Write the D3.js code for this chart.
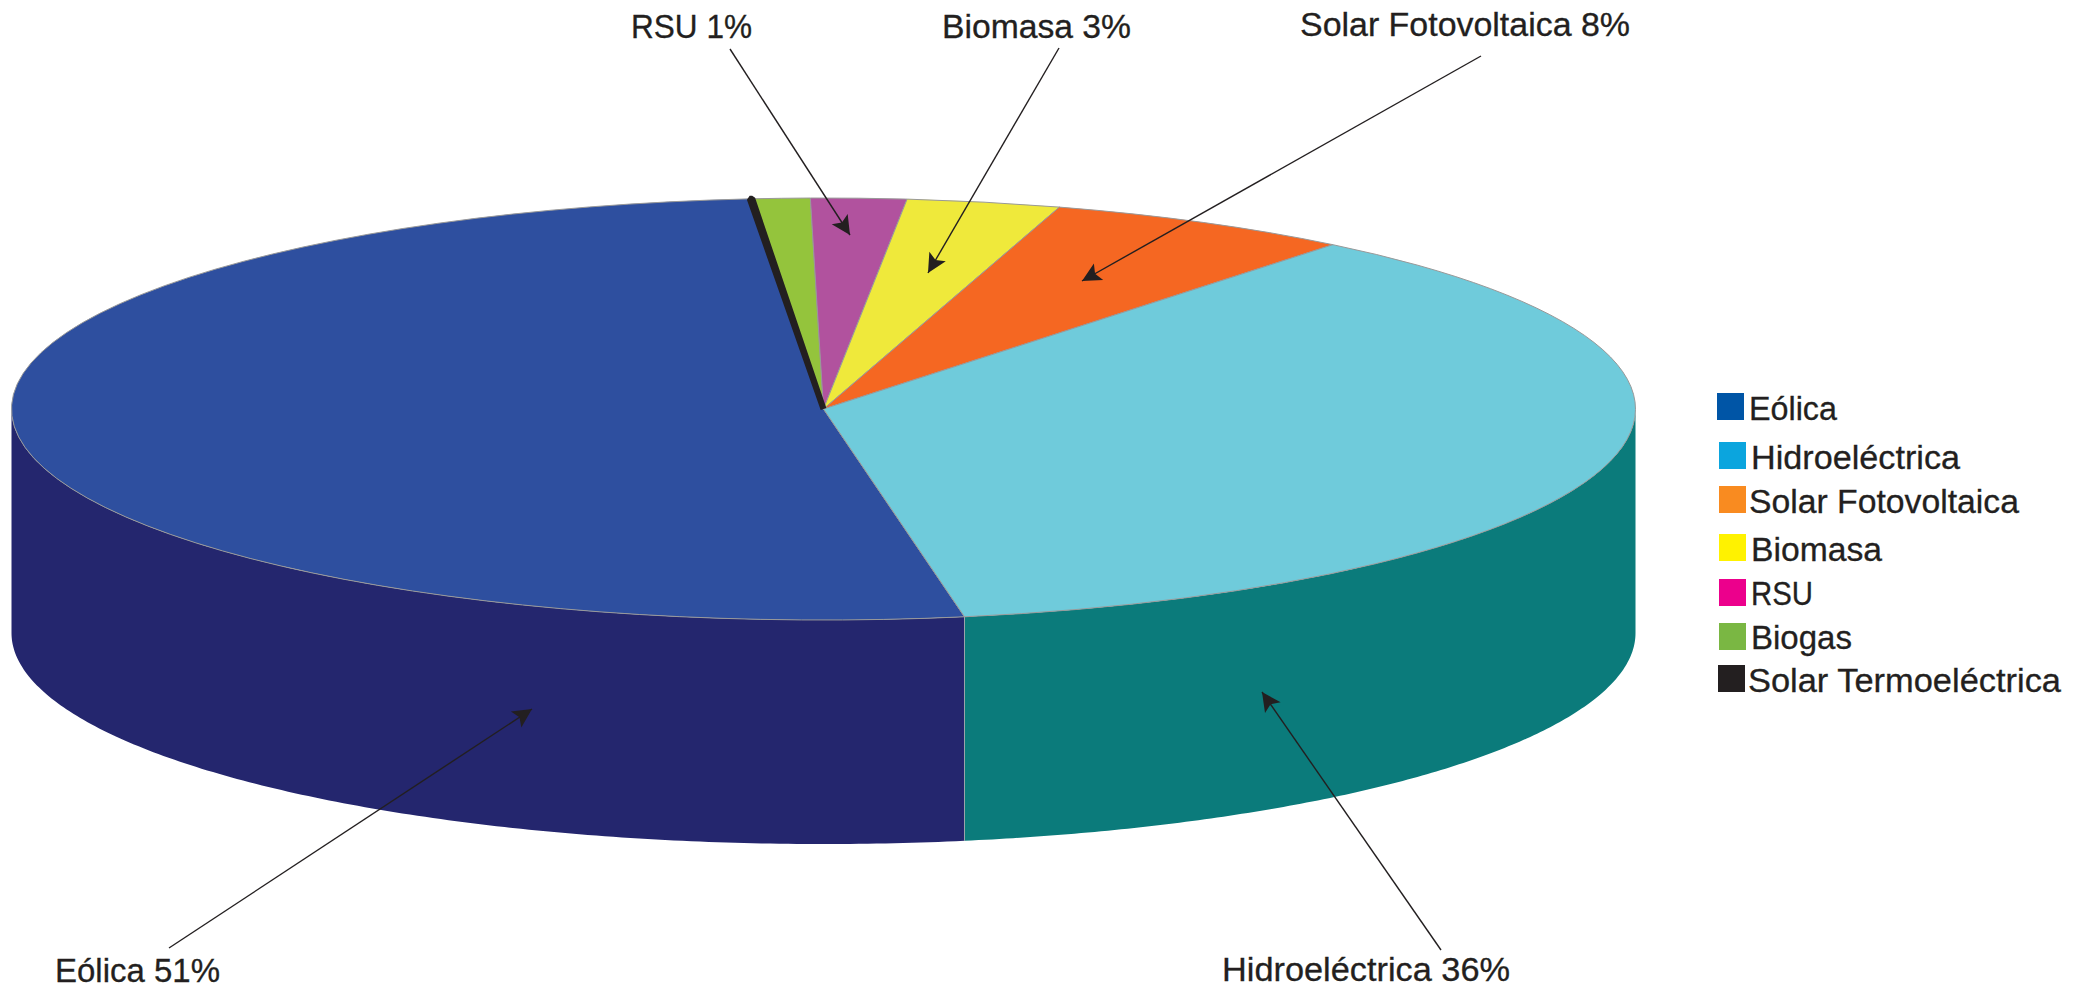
<!DOCTYPE html>
<html><head><meta charset="utf-8">
<script src="https://cdn.jsdelivr.net/npm/d3@7/dist/d3.min.js"></script>
<style>html,body{margin:0;padding:0;background:#fff}svg{display:block}text{font-family:"Liberation Sans",Arial,sans-serif;fill:#231F20;stroke:#231F20;stroke-width:.3px}</style>
</head><body><svg id="c" width="2087" height="990"></svg>
<script>
// Data: clockwise from the Eólica / Hidroeléctrica seam, shares as drawn on the pie
const categories = ["Eólica","Solar Termoeléctrica","Biogas","RSU","Biomasa","Solar Fotovoltaica","Hidroeléctrica"];
const values = [51.33,0.05,1.14,1.9,3.05,6.1,36.43];
const legendOrder = ["Eólica","Hidroeléctrica","Solar Fotovoltaica","Biomasa","RSU","Biogas","Solar Termoeléctrica"];
const calloutNames = ["RSU","Biomasa","Solar Fotovoltaica","Eólica","Hidroeléctrica"];
const calloutPercents = [1,3,8,51,36];

// Styles
const topColors = {"Eólica":"#2E4F9F","Hidroeléctrica":"#6FCBDB","Solar Fotovoltaica":"#F56722","Biomasa":"#EFE93B","RSU":"#B1529E","Biogas":"#94C43C","Solar Termoeléctrica":"#231F20"};
const sideColors = {"Eólica":"#24266E","Hidroeléctrica":"#0B7B7B"};
const legendColors = {"Eólica":"#0055A6","Hidroeléctrica":"#0BA5DE","Solar Fotovoltaica":"#F98B20","Biomasa":"#FFF200","RSU":"#EC008C","Biogas":"#7AB743","Solar Termoeléctrica":"#231F20"};

// Layout
const cx=823.5, cy=409, rx=812, ry=211, depth=224, FS=33, R=1000;
const legendLayout = [
 {sx:1717,sy:393,tx:1749,by:420,w:88},
 {sx:1719,sy:442,tx:1751,by:469,w:209},
 {sx:1719,sy:486,tx:1749,by:513,w:270},
 {sx:1719,sy:534,tx:1751,by:561,w:131},
 {sx:1719,sy:579,tx:1751,by:605,w:62},
 {sx:1719,sy:623,tx:1751,by:649,w:101},
 {sx:1718,sy:665,tx:1748,by:692,w:313}
];
const calloutLayout = [
 {tx:631,by:38,w:121,x1:730,y1:49,x2:850,y2:235},
 {tx:942,by:38,w:189,x1:1059,y1:48,x2:928,y2:273},
 {tx:1300,by:36,w:330,x1:1481,y1:56,x2:1082,y2:281},
 {tx:55,by:982,w:165,x1:169,y1:948,x2:532,y2:709},
 {tx:1222,by:981,w:288,x1:1441,y1:950,x2:1262,y2:692}
];

const svg=d3.select("#c");
const x=d3.scaleLinear().domain([-1,1]).range([cx-rx,cx+rx]);
const y=d3.scaleLinear().domain([-1,1]).range([cy-ry,cy+ry]);

svg.append("defs").append("marker").attr("id","ah").attr("markerUnits","userSpaceOnUse")
 .attr("viewBox","-20 -11 22 22").attr("refX",0).attr("refY",0).attr("markerWidth",22).attr("markerHeight",22).attr("orient","auto")
 .append("path").attr("d","M0,0L-19,-9.5L-15,0L-19,9.5Z").attr("fill","#231F20");

const pie=d3.pie().sort(null).startAngle(170*Math.PI/180).endAngle((170+360)*Math.PI/180);
const arcs=pie(values).map((d,i)=>({...d,name:categories[i]}));

// side wall: visible from 90deg to 270deg of the rim
const rimPt=a=>[x(Math.sin(a)),y(-Math.cos(a))];
const visA=Math.PI/2, visB=3*Math.PI/2;
const sideSegs=arcs.map(d=>({name:d.name,a0:Math.max(d.startAngle,visA),a1:Math.min(d.endAngle,visB)}))
 .concat(arcs.map(d=>({name:d.name,a0:Math.max(d.startAngle-2*Math.PI,visA),a1:Math.min(d.endAngle-2*Math.PI,visB)})))
 .filter(s=>s.a1>s.a0);
const sideArea=d3.area().x(d=>d[0]).y0(d=>d[1]).y1(d=>d[1]+depth);
svg.append("g").selectAll("path").data(sideSegs).join("path")
 .attr("d",s=>sideArea(d3.range(0,161).map(k=>rimPt(s.a0+(s.a1-s.a0)*k/160))))
 .attr("fill",s=>sideColors[s.name]||"#24266E");
// seam between the two side colours
const seam=rimPt(arcs[0].startAngle);
svg.append("line").attr("x1",seam[0]).attr("x2",seam[0]).attr("y1",seam[1]).attr("y2",seam[1]+depth).attr("stroke","#9AA3AA").attr("stroke-width",1);

// top face
const arc=d3.arc().innerRadius(0).outerRadius(R);
const drawOrder=arcs.filter(d=>d.name!=="Solar Termoeléctrica").concat(arcs.filter(d=>d.name==="Solar Termoeléctrica"));
svg.append("g").attr("transform",`translate(${cx},${cy}) scale(${rx/R},${ry/R})`)
 .selectAll("path").data(drawOrder).join("path").attr("d",arc)
 .attr("fill",d=>topColors[d.name])
 .attr("stroke",d=>d.name==="Solar Termoeléctrica"?"#231F20":"#999")
 .attr("stroke-width",d=>d.name==="Solar Termoeléctrica"?6:1)
 .attr("stroke-linejoin","bevel")
 .attr("vector-effect","non-scaling-stroke");

// callouts
const cg=svg.append("g");
calloutNames.forEach((n,i)=>{
 const L=calloutLayout[i];
 cg.append("line").attr("x1",L.x1).attr("y1",L.y1).attr("x2",L.x2).attr("y2",L.y2)
  .attr("stroke","#231F20").attr("stroke-width",1.4).attr("marker-end","url(#ah)");
 cg.append("text").attr("x",L.tx).attr("y",L.by).attr("font-size",FS)
  .attr("textLength",L.w).attr("lengthAdjust","spacingAndGlyphs").text(`${n} ${calloutPercents[i]}%`);
});

// legend
const lg=svg.append("g");
legendOrder.forEach((n,i)=>{
 const L=legendLayout[i];
 lg.append("rect").attr("x",L.sx).attr("y",L.sy).attr("width",27).attr("height",27).attr("fill",legendColors[n]);
 lg.append("text").attr("x",L.tx).attr("y",L.by).attr("font-size",FS)
  .attr("textLength",L.w).attr("lengthAdjust","spacingAndGlyphs").text(n);
});
</script></body></html>
